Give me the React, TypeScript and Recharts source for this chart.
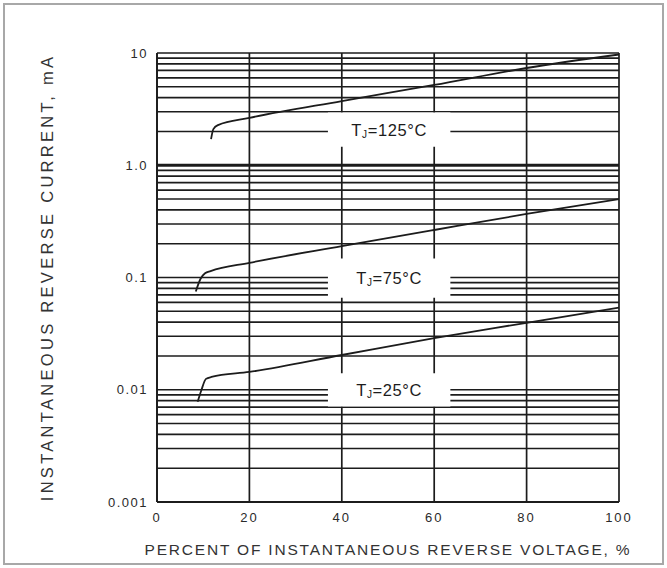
import React from "react";
import {
  CartesianGrid,
  Line,
  LineChart,
  ReferenceArea,
  ReferenceLine,
  XAxis,
  YAxis,
} from "recharts";

// Reverse leakage vs. percent of rated reverse voltage, three junction temps.
const xTicks = [0, 20, 40, 60, 80, 100];
const yTicks = [0.001, 0.01, 0.1, 1, 10];

// log grid: 1..9 per decade
const gridValues = [
  0.001, 0.002, 0.003, 0.004, 0.005, 0.006, 0.007, 0.008, 0.009,
  0.01, 0.02, 0.03, 0.04, 0.05, 0.06, 0.07, 0.08, 0.09,
  0.1, 0.2, 0.3, 0.4, 0.5, 0.6, 0.7, 0.8, 0.9,
  1, 2, 3, 4, 5, 6, 7, 8, 9, 10,
];

const curve125 = [
  { x: 11.7, y: 1.71 },
  { x: 12.2, y: 2.1 },
  { x: 13.2, y: 2.28 },
  { x: 20, y: 2.64 },
  { x: 40, y: 3.73 },
  { x: 60, y: 5.19 },
  { x: 80, y: 7.35 },
  { x: 100, y: 9.7 },
];

const curve75 = [
  { x: 8.4, y: 0.075 },
  { x: 9.4, y: 0.097 },
  { x: 10.4, y: 0.109 },
  { x: 11.6, y: 0.114 },
  { x: 20, y: 0.135 },
  { x: 40, y: 0.19 },
  { x: 60, y: 0.265 },
  { x: 80, y: 0.368 },
  { x: 100, y: 0.5 },
];

const curve25 = [
  { x: 8.8, y: 0.0078 },
  { x: 9.6, y: 0.0099 },
  { x: 10.6, y: 0.0125 },
  { x: 11.8, y: 0.013 },
  { x: 20, y: 0.0144 },
  { x: 40, y: 0.0204 },
  { x: 60, y: 0.0289 },
  { x: 80, y: 0.0395 },
  { x: 100, y: 0.054 },
];

// white label bands sitting over the grid
const labelTemps = ["125", "75", "25"];
const labelLow = [1.46, 0.066, 0.0071];
const labelHigh = [2.95, 0.148, 0.014];
const labelX = [37, 63.5];

const INK = "#1c1c1c";
const FONT = "'Liberation Sans', Arial, Helvetica, sans-serif";

const fmtY = (v: number) => (v === 1 ? "1.0" : String(v));

function TempLabel(props: any) {
  const vb = props.viewBox || {};
  const cx = vb.x + vb.width / 2;
  const cy = vb.y + vb.height / 2;
  return (
    <text
      x={cx}
      y={cy}
      textAnchor="middle"
      dominantBaseline="central"
      fontFamily={FONT}
      fontSize={16.5}
      fill={INK}
      letterSpacing={0.6}
    >
      T
      <tspan fontSize={10} dy={4}>
        J
      </tspan>
      <tspan dy={-4}>={props.temp}°C</tspan>
    </text>
  );
}

function YTitle(props: any) {
  const vb = props.viewBox || {};
  const x = vb.x + 47;
  const y = vb.y + vb.height / 2;
  return (
    <text
      x={x}
      y={y}
      transform={`rotate(-90 ${x} ${y})`}
      textAnchor="middle"
      dominantBaseline="central"
      fontFamily={FONT}
      fontSize={16.5}
      letterSpacing={3.3}
      fill="#333"
    >
      INSTANTANEOUS  REVERSE CURRENT, mA
    </text>
  );
}

function XTitle(props: any) {
  const vb = props.viewBox || {};
  const x = vb.x + vb.width / 2;
  const y = vb.y + 47;
  return (
    <text
      x={x}
      y={y}
      textAnchor="middle"
      dominantBaseline="central"
      fontFamily={FONT}
      fontSize={15.5}
      letterSpacing={1.8}
      fill="#333"
    >
      PERCENT OF INSTANTANEOUS REVERSE VOLTAGE, %
    </text>
  );
}

export default function App() {
  return (
    <div
      style={{
        position: "absolute",
        left: 0,
        top: 0,
        width: 667,
        height: 568,
        background: "#fff",
      }}
    >
      <div
        style={{
          position: "absolute",
          left: 3,
          top: 3,
          width: 657,
          height: 558,
          border: "2px solid #a8a8a8",
        }}
      />
      <LineChart
        width={667}
        height={568}
        margin={{ top: 53, right: 48, bottom: 0, left: 0 }}
        style={{ position: "absolute", left: 0, top: 0 }}
      >
        <CartesianGrid
          stroke={INK}
          strokeWidth={1.7}
          strokeOpacity={1}
          horizontal={false}
        />
        <XAxis
          type="number"
          dataKey="x"
          domain={[0, 100]}
          ticks={xTicks}
          height={66}
          tickSize={0}
          tickMargin={11}
          axisLine={{ stroke: INK, strokeWidth: 1.8 }}
          tickLine={false}
          tick={{ fontSize: 13, fill: "#2a2a2a", fontFamily: FONT, letterSpacing: 2 }}
          allowDataOverflow
          label={<XTitle />}
        />
        <YAxis
          type="number"
          scale="log"
          domain={[0.001, 10]}
          ticks={yTicks}
          tickFormatter={fmtY}
          width={157}
          tickSize={0}
          tickMargin={9}
          axisLine={{ stroke: INK, strokeWidth: 1.8 }}
          tickLine={false}
          tick={{ fontSize: 13, fill: "#2a2a2a", fontFamily: FONT, letterSpacing: 1.5 }}
          allowDataOverflow
          label={<YTitle />}
        />
        {gridValues.map((v) => (
          <ReferenceLine
            key={v}
            y={v}
            stroke={INK}
            strokeWidth={v === 1 ? 3 : 1.6}
            zIndex={-50}
          />
        ))}
        {labelTemps.map((t, i) => (
          <ReferenceArea
            key={t}
            x1={labelX[0]}
            x2={labelX[1]}
            y1={labelLow[i]}
            y2={labelHigh[i]}
            fill="#fff"
            fillOpacity={1}
            stroke="none"
            zIndex={50}
            label={<TempLabel temp={t} />}
          />
        ))}
        <Line
          data={curve125}
          dataKey="y"
          type="monotone"
          stroke={INK}
          strokeWidth={1.8}
          dot={false}
          isAnimationActive={false}
        />
        <Line
          data={curve75}
          dataKey="y"
          type="monotone"
          stroke={INK}
          strokeWidth={1.8}
          dot={false}
          isAnimationActive={false}
        />
        <Line
          data={curve25}
          dataKey="y"
          type="monotone"
          stroke={INK}
          strokeWidth={1.8}
          dot={false}
          isAnimationActive={false}
        />
      </LineChart>
    </div>
  );
}
